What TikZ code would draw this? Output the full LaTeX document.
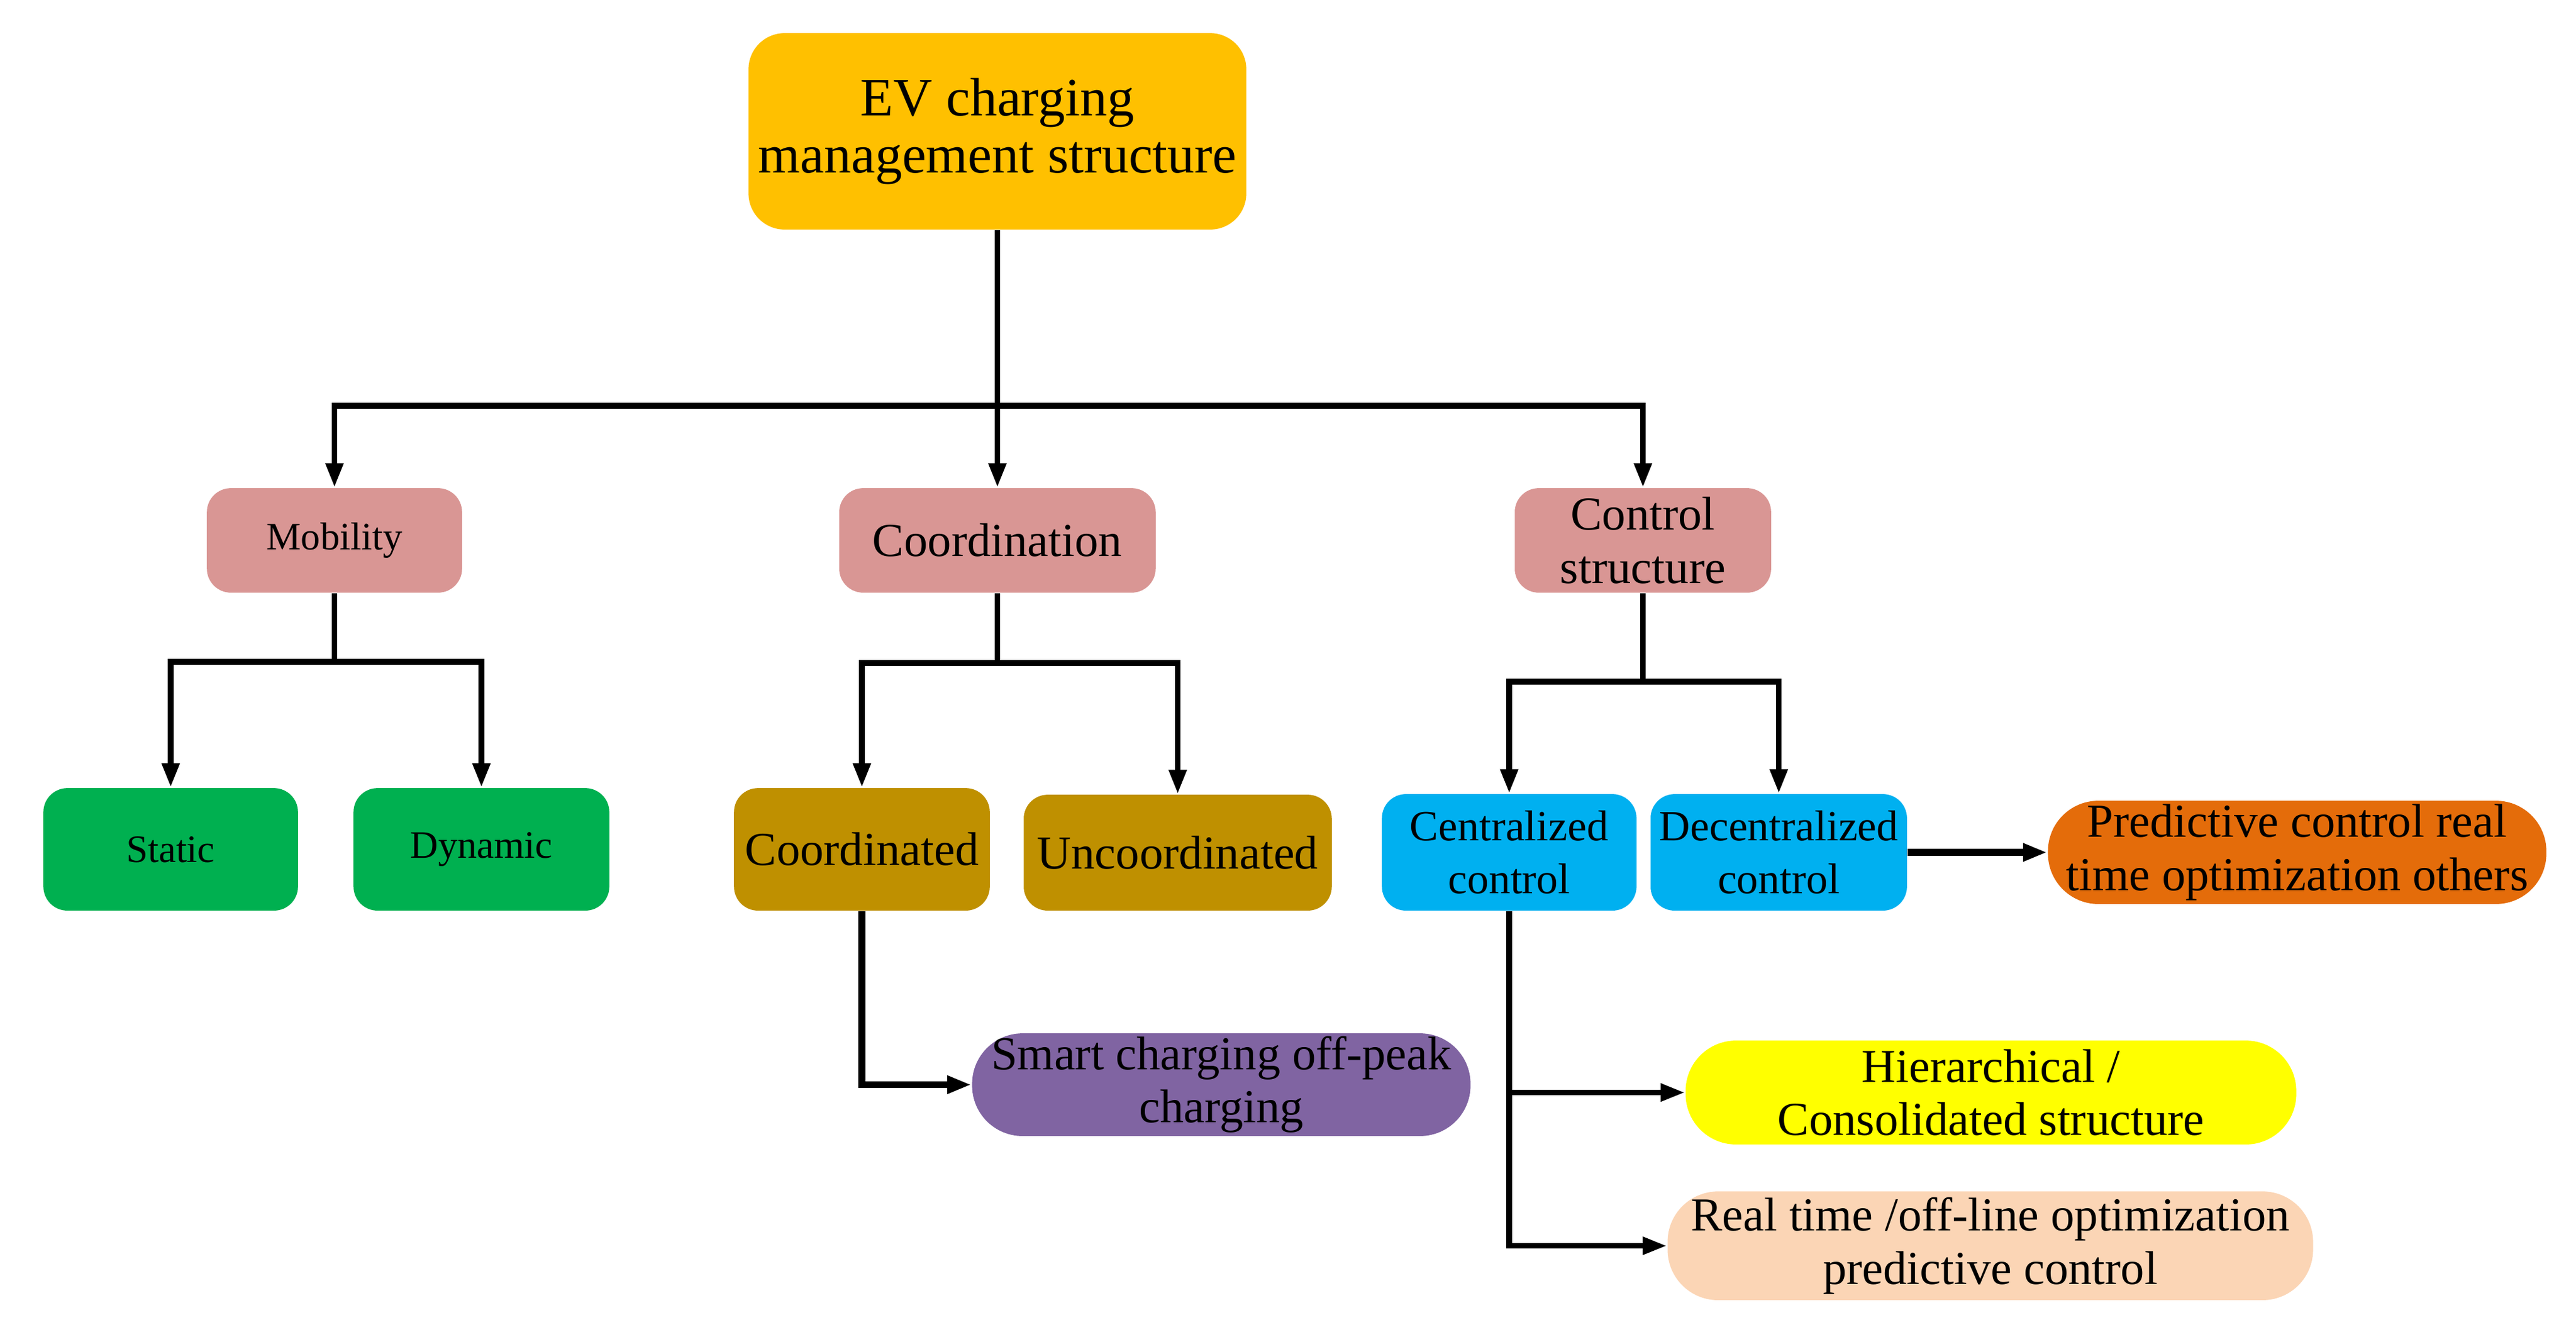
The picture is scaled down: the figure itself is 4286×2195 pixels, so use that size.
\documentclass[tikz,border=0pt]{standalone}
\usepackage{fontspec}
\setmainfont{Liberation Serif}
\usetikzlibrary{arrows.meta}
\definecolor{rootyellow}{HTML}{FFC000}
\definecolor{levelpink}{HTML}{D99694}
\definecolor{leafgreen}{HTML}{00B050}
\definecolor{leafgold}{HTML}{BF9000}
\definecolor{leafblue}{HTML}{00B0F0}
\definecolor{endorange}{HTML}{E46C0A}
\definecolor{endpurple}{HTML}{8064A2}
\definecolor{endyellow}{HTML}{FFFF00}
\definecolor{endpeach}{HTML}{FBD5B5}
\tikzset{
  box/.style={fill=#1, rounded corners=0.2cm, inner sep=0pt, align=center,
    font=\fontsize{11.2}{12.6}\selectfont},
  smallbox/.style={box=#1, font=\fontsize{9.2}{11}\selectfont},
  bluebox/.style={box=#1, font=\fontsize{10.2}{12.4}\selectfont},
  pill/.style={box=#1, rounded corners=0.42cm},
  link/.style={line width=1.3pt},
  arr/.style={link, -{Triangle[length=5.7pt,width=4pt]}},
  thickarr/.style={arr, line width=1.6pt}
}
\begin{document}
\begin{tikzpicture}[x=0.005cm,y=-0.005cm]
  \useasboundingbox (0,0) rectangle (4286,2195);
  %% Root
  \node[box=rootyellow, rounded corners=0.3cm, minimum width=4.145cm, minimum height=1.635cm,
    font=\fontsize{12.8}{13.6}\selectfont] (root) at (1659.5,218.5) {EV charging\\management structure};
  %% Second level
  \node[smallbox=levelpink, minimum width=2.125cm, minimum height=0.87cm] (mobility) at (556.5,899) {Mobility};
  \node[box=levelpink, minimum width=2.635cm, minimum height=0.87cm] (coordination) at (1659.5,899) {Coordination};
  \node[box=levelpink, minimum width=2.135cm, minimum height=0.87cm] (control) at (2733.5,899) {Control\\structure};
  %% Third level
  \node[smallbox=leafgreen, minimum width=2.12cm, minimum height=1.02cm] (static) at (284,1413) {Static};
  \node[smallbox=leafgreen, minimum width=2.13cm, minimum height=1.02cm] (dynamic) at (801,1413) {Dynamic};
  \node[box=leafgold, minimum width=2.13cm, minimum height=1.02cm] (coordinated) at (1434,1413) {Coordinated};
  \node[box=leafgold, minimum width=2.565cm, minimum height=0.965cm] (uncoordinated) at (1959.5,1418.5) {Uncoordinated};
  \node[bluebox=leafblue, minimum width=2.12cm, minimum height=0.97cm] (centralized) at (2511,1418) {Centralized\\control};
  \node[bluebox=leafblue, minimum width=2.135cm, minimum height=0.97cm] (decentralized) at (2959.5,1418) {Decentralized\\control};
  %% End nodes
  \node[pill=endorange, minimum width=4.15cm, minimum height=0.86cm] (predictive) at (3822,1418) {Predictive control real\\time optimization others};
  \node[pill=endpurple, minimum width=4.15cm, minimum height=0.855cm] (smart) at (2032,1804.5) {Smart charging off-peak\\charging};
  \node[pill=endyellow, minimum width=5.085cm, minimum height=0.865cm] (hierarchical) at (3312.5,1817.5) {Hierarchical /\\Consolidated structure};
  \node[pill=endpeach, minimum width=5.375cm, minimum height=0.905cm] (realtime) at (3311.5,2072.5) {Real time /off-line optimization\\predictive control};
  %% Junctions
  \coordinate (jroot) at (1659.5,675);
  \coordinate (jmob) at (556.5,1101);
  \coordinate (jcoord) at (1659.5,1103);
  \coordinate (jctrl) at (2733.5,1134);
  %% Connectors
  \draw[link] (root) -- (jroot);
  \draw[arr] (jroot) -| (mobility.north);
  \draw[arr] (jroot) -- (coordination.north);
  \draw[arr] (jroot) -| (control.north);
  \draw[link] (mobility) -- (jmob);
  \draw[arr] (jmob) -| (static.north);
  \draw[arr] (jmob) -| (dynamic.north);
  \draw[link] (coordination) -- (jcoord);
  \draw[arr] (jcoord) -| (coordinated.north);
  \draw[arr] (jcoord) -| (uncoordinated.north);
  \draw[link] (control) -- (jctrl);
  \draw[arr] (jctrl) -| (centralized.north);
  \draw[arr] (jctrl) -| (decentralized.north);
  \draw[thickarr] (decentralized) -- (predictive);
  \draw[thickarr] (coordinated.south) |- (smart.west);
  \draw[arr] (centralized.south) |- (hierarchical.west);
  \draw[arr] (centralized.south) |- (realtime.west);
\end{tikzpicture}
\end{document}
